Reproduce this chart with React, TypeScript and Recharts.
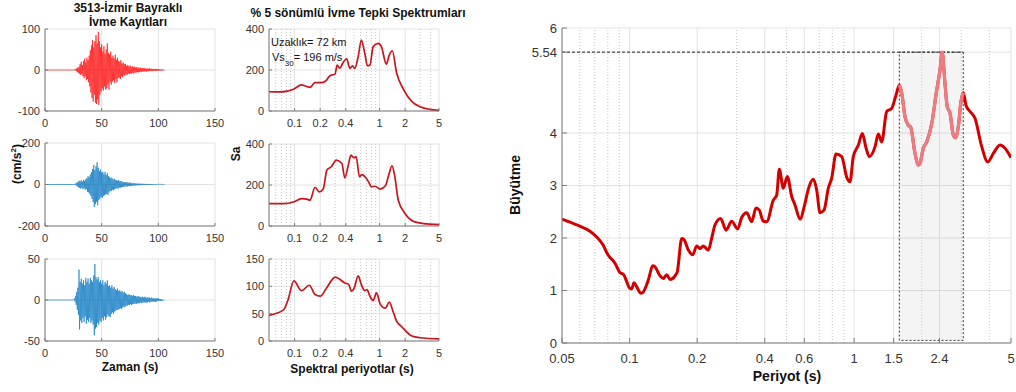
import React from 'react';
import {
  LineChart, Line, XAxis, YAxis, CartesianGrid, ReferenceLine, ReferenceArea,
} from 'recharts';

const FONT = '"Liberation Sans", Arial, Helvetica, sans-serif';
const AXIS = '#7d7d7d';
const LABEL = '#333333';
const GRID = '#e2e2e2';
const MINOR = '#c6c6c6';

// ---- acceleration records: per-second peak (hi) and trough (lo), starting at 26 s ----
const recStart = 26;
const rec1Hi = [1, 2, 4, 6, 8, 15, 20, 12, 22, 28, 18, 30, 25, 35, 48, 60, 73, 55, 70, 85, 65, 93, 70, 55, 63, 45, 58, 40, 50, 65, 42, 38, 45, 30, 35, 28, 37, 25, 30, 22, 20, 24, 16, 18, 14, 15, 10, 12, 9, 11, 8, 9, 7, 8, 6, 7, 6, 5, 6, 4, 5, 4, 5, 3, 4, 3, 4, 3, 3, 2, 3, 2, 3, 2, 2, 2, 1, 2, 1, 0];
const rec1Lo = [-1, -2, -5, -7, -9, -12, -10, -15, -20, -15, -25, -22, -30, -40, -55, -68, -77, -60, -80, -83, -72, -85, -60, -52, -45, -50, -40, -48, -45, -35, -48, -30, -36, -28, -25, -32, -22, -30, -20, -18, -22, -15, -17, -13, -14, -11, -12, -9, -10, -8, -9, -7, -8, -6, -6, -5, -6, -5, -4, -5, -4, -4, -3, -4, -3, -3, -3, -2, -3, -2, -2, -2, -2, -2, -1, -2, -1, -1, -1, 0];
const rec2Hi = [2, 4, 8, 12, 18, 15, 20, 14, 22, 18, 25, 30, 40, 35, 48, 60, 75, 94, 70, 88, 107, 81, 65, 72, 58, 61, 50, 61, 45, 55, 40, 35, 30, 33, 25, 28, 22, 20, 18, 22, 15, 17, 14, 12, 10, 12, 9, 10, 8, 10, 7, 6, 6, 5, 5, 4, 5, 4, 4, 3, 4, 3, 3, 3, 2, 3, 2, 2, 2, 2, 2, 1, 2, 1, 1, 1, 1, 1, 1, 0];
const rec2Lo = [-2, -4, -9, -14, -16, -20, -15, -22, -18, -25, -22, -35, -38, -45, -55, -70, -85, -108, -95, -84, -100, -75, -68, -60, -65, -55, -52, -48, -45, -50, -38, -30, -32, -25, -28, -22, -20, -18, -20, -15, -16, -13, -12, -11, -10, -9, -10, -8, -7, -8, -6, -6, -5, -5, -4, -4, -4, -3, -4, -3, -3, -3, -2, -3, -2, -2, -2, -2, -2, -1, -2, -1, -1, -1, -1, -1, -1, -1, -1, 0];
const rec3Hi = [2, 5, 10, 15, 37, 22, 26, 20, 24, 18, 27, 22, 26, 20, 27, 24, 22, 30, 44, 28, 25, 28, 22, 24, 20, 24, 18, 22, 20, 24, 17, 18, 15, 18, 14, 16, 13, 12, 14, 11, 12, 10, 11, 9, 10, 8, 7, 6, 7, 6, 6, 5, 6, 5, 5, 4, 5, 4, 4, 3, 4, 3, 4, 3, 3, 3, 3, 2, 3, 2, 2, 2, 2, 2, 2, 1, 1, 1, 0, 0];
const rec3Lo = [-2, -6, -12, -18, -36, -25, -28, -22, -27, -20, -29, -24, -27, -22, -28, -25, -30, -43, -35, -33, -28, -30, -25, -27, -22, -25, -20, -24, -21, -18, -20, -21, -17, -15, -17, -14, -13, -12, -12, -11, -10, -11, -9, -8, -9, -7, -7, -6, -6, -5, -6, -5, -5, -4, -5, -4, -4, -4, -3, -4, -3, -3, -3, -3, -3, -2, -3, -2, -2, -2, -2, -2, -2, -1, -1, -1, -1, -1, 0, 0];

const timeTicks = [0, 50, 100, 150];

// ---- 5% damped response spectra ----
const sp1T = [0.05, 0.067, 0.082, 0.097, 0.121, 0.133, 0.152, 0.174, 0.208, 0.238, 0.26, 0.299, 0.317, 0.34, 0.367, 0.41, 0.447, 0.48, 0.51, 0.56, 0.61, 0.67, 0.72, 0.77, 0.84, 0.96, 1.05, 1.2, 1.3, 1.41, 1.59, 1.91, 2.4, 3.0, 3.9, 5];
const sp1Sa = [94, 93, 97, 106, 127, 122, 115, 138, 138, 151, 172, 180, 224, 208, 232, 255, 208, 220, 208, 265, 346, 281, 220, 224, 314, 330, 314, 229, 273, 294, 184, 106, 46, 21, 8, 3];
const sp2T = [0.05, 0.074, 0.097, 0.121, 0.139, 0.152, 0.174, 0.195, 0.217, 0.24, 0.27, 0.31, 0.36, 0.39, 0.43, 0.46, 0.5, 0.53, 0.58, 0.62, 0.7, 0.76, 0.8, 0.88, 1.02, 1.17, 1.28, 1.4, 1.5, 1.66, 2.0, 2.6, 3.6, 5];
const sp2Sa = [109, 109, 117, 134, 131, 126, 189, 166, 180, 273, 289, 321, 305, 235, 300, 346, 333, 338, 240, 251, 232, 207, 191, 194, 180, 196, 248, 294, 248, 126, 60, 20, 10, 7];
const sp3T = [0.05, 0.074, 0.084, 0.098, 0.121, 0.149, 0.174, 0.2, 0.238, 0.3, 0.34, 0.39, 0.43, 0.47, 0.5, 0.56, 0.61, 0.67, 0.71, 0.77, 0.84, 0.92, 1.02, 1.17, 1.3, 1.44, 1.59, 1.8, 2.4, 3.0, 5];
const sp3Sa = [47, 57, 76, 110, 92, 102, 85, 82, 97, 117, 113, 106, 104, 91, 96, 119, 103, 92, 94, 82, 74, 88, 67, 60, 71, 54, 36, 27, 9, 6, 4];

const spTicks = [0.1, 0.2, 0.4, 1, 2, 5];
const spMinor = [0.06, 0.07, 0.08, 0.09, 0.3, 0.5, 0.6, 0.7, 0.8, 0.9, 3, 4];

// ---- amplification curve ----
const ampT = [0.05, 0.0582, 0.0666, 0.0714, 0.0761, 0.0801, 0.0861, 0.0907, 0.0938, 0.0971, 0.0997, 0.1022, 0.1046, 0.1076, 0.1121, 0.1144, 0.1212, 0.1268, 0.1298, 0.1367, 0.1413, 0.1464, 0.1514, 0.1594, 0.1632, 0.1707, 0.1748, 0.1827, 0.1911, 0.1991, 0.206, 0.2131, 0.2243, 0.2322, 0.2402, 0.2547, 0.2689, 0.2851, 0.3031, 0.3158, 0.3324, 0.3499, 0.3657, 0.3782, 0.3942, 0.4082, 0.4368, 0.4523, 0.4645, 0.4839, 0.504, 0.5274, 0.5456, 0.574, 0.6045, 0.6254, 0.6585, 0.6817, 0.705, 0.7345, 0.768, 0.795, 0.831, 0.881, 0.927, 0.959, 0.992, 1.045, 1.088, 1.13, 1.169, 1.24, 1.282, 1.328, 1.397, 1.471, 1.537, 1.59, 1.63, 1.686, 1.744, 1.788, 1.868, 1.932, 1.966, 2.034, 2.106, 2.218, 2.334, 2.414, 2.47, 2.54, 2.6, 2.675, 2.767, 2.836, 2.912, 2.994, 3.065, 3.151, 3.284, 3.456, 3.703, 3.938, 4.171, 4.467, 4.7, 5.0];
const ampVal = [2.36, 2.25, 2.13, 2.02, 1.87, 1.68, 1.52, 1.34, 1.31, 1.17, 1.05, 1.03, 1.15, 1.07, 0.95, 0.96, 1.2, 1.47, 1.45, 1.28, 1.23, 1.3, 1.21, 1.28, 1.36, 1.99, 1.97, 1.77, 1.68, 1.85, 1.8, 1.85, 1.77, 2.0, 2.25, 2.37, 2.15, 2.32, 2.17, 2.39, 2.48, 2.31, 2.57, 2.53, 2.32, 2.31, 2.72, 2.82, 3.31, 2.95, 3.17, 2.79, 2.63, 2.36, 2.66, 2.93, 3.12, 2.91, 2.48, 2.53, 2.95, 3.14, 3.6, 3.55, 3.16, 3.07, 3.55, 3.77, 3.99, 3.72, 3.55, 3.74, 3.98, 3.83, 4.41, 4.47, 4.72, 4.91, 4.76, 4.31, 4.15, 4.11, 3.61, 3.39, 3.42, 3.71, 3.83, 4.18, 4.82, 5.2, 5.54, 4.95, 4.5, 4.38, 3.96, 3.91, 4.12, 4.6, 4.77, 4.53, 4.41, 4.28, 3.74, 3.45, 3.61, 3.77, 3.71, 3.53];

const ampTicks = [0.05, 0.1, 0.2, 0.4, 0.6, 1, 1.5, 2.4, 5];
const ampMinor = [0.06, 0.07, 0.08, 0.09, 0.3, 0.5, 0.7, 0.8, 0.9, 2, 3, 4];
const ampYTicks = [0, 1, 2, 3, 4, 5.54, 6];
const peakAmp = 5.54;
const bandFrom = 1.59;
const bandTo = 3.065;

type Box = { x: number; y: number; w: number; h: number };

function buildTrace(hi: number[], lo: number[]) {
  const rows = [{ t: 0, a: 0 }, { t: recStart - 1, a: 0 }];
  hi.forEach((h, i) => {
    rows.push({ t: recStart + i, a: h });
    rows.push({ t: recStart + i + 0.5, a: lo[i] });
  });
  return rows;
}

function buildSpectrum(T: number[], sa: number[]) {
  return T.map((t, i) => ({ t, sa: sa[i] }));
}

const ampData = ampT.map((t, i) => ({
  t,
  amp: ampVal[i],
  band: t >= bandFrom && t <= bandTo ? ampVal[i] : null,
}));

const blank = () => '';

function place(box: Box, padL: number, padT: number, padR: number, padB: number) {
  return {
    style: { position: 'absolute' as const, left: box.x - padL, top: box.y - padT },
    width: box.w + padL + padR,
    height: box.h + padT + padB,
    margin: { top: padT, right: padR, bottom: 0, left: 0 },
  };
}

function TracePanel({ box, data, range, yTicks, color }: {
  box: Box; data: { t: number; a: number }[]; range: number; yTicks: number[]; color: string;
}) {
  const p = place(box, 40, 10, 14, 24);
  const tickStyle = { fontSize: 11, fill: LABEL };
  return (
    <div style={p.style}>
      <LineChart width={p.width} height={p.height} data={data} margin={p.margin}>
        <CartesianGrid stroke={GRID} />
        <XAxis dataKey="t" type="number" domain={[0, 150]} ticks={timeTicks} interval={0}
          height={24} tickSize={-3} tickMargin={11} tick={tickStyle}
          stroke={AXIS} />
        <XAxis xAxisId="top" orientation="top" type="number" domain={[0, 150]} ticks={timeTicks}
          height={0} tickSize={-3} tickFormatter={blank} stroke={AXIS} />
        <YAxis type="number" domain={[-range, range]} ticks={yTicks} interval={0}
          width={40} tickSize={-3} tickMargin={8} tick={tickStyle} stroke={AXIS} />
        <YAxis yAxisId="right" orientation="right" type="number" domain={[-range, range]} ticks={yTicks}
          width={0} tickSize={-3} tickFormatter={blank} stroke={AXIS} />
        <Line dataKey="a" type="linear" stroke={color} strokeWidth={0.6} dot={false}
          isAnimationActive={false} />
      </LineChart>
    </div>
  );
}

function SpectrumPanel({ box, data, max, yTicks }: {
  box: Box; data: { t: number; sa: number }[]; max: number; yTicks: number[];
}) {
  const p = place(box, 40, 10, 10, 24);
  const tickStyle = { fontSize: 11, fill: LABEL };
  return (
    <div style={p.style}>
      <LineChart width={p.width} height={p.height} data={data} margin={p.margin}>
        <CartesianGrid stroke={GRID} />
        {spMinor.map((v) => (
          <ReferenceLine key={v} x={v} stroke={MINOR} strokeDasharray="1 2" />
        ))}
        <XAxis dataKey="t" type="number" scale="log" domain={[0.05, 5]} allowDataOverflow
          ticks={spTicks} interval={0} height={24} tickSize={-3} tickMargin={11}
          tick={tickStyle} stroke={AXIS} />
        <XAxis xAxisId="top" orientation="top" type="number" scale="log" domain={[0.05, 5]}
          allowDataOverflow ticks={spTicks} height={0} tickSize={-3} tickFormatter={blank} stroke={AXIS} />
        <YAxis type="number" domain={[0, max]} ticks={yTicks} interval={0} width={40}
          tickSize={-3} tickMargin={8} tick={tickStyle} stroke={AXIS} />
        <YAxis yAxisId="right" orientation="right" type="number" domain={[0, max]} ticks={yTicks}
          width={0} tickSize={-3} tickFormatter={blank} stroke={AXIS} />
        <Line dataKey="sa" type="monotone" stroke="#c8141c" strokeWidth={1.7} dot={false}
          isAnimationActive={false} />
      </LineChart>
    </div>
  );
}

function AmplificationPanel({ box }: { box: Box }) {
  const p = place(box, 60, 10, 5, 30);
  const tickStyle = { fontSize: 13, fill: LABEL };
  return (
    <div style={p.style}>
      <LineChart width={p.width} height={p.height} data={ampData} margin={p.margin}>
        <ReferenceArea x1={bandFrom} x2={bandTo} y1={0.05} y2={peakAmp} fill="#000000"
          fillOpacity={0.045} stroke="#333333" strokeDasharray="2 2" />
        <CartesianGrid stroke={GRID} />
        {ampMinor.map((v) => (
          <ReferenceLine key={v} x={v} stroke={MINOR} strokeDasharray="1 2" />
        ))}
        <ReferenceLine segment={[{ x: 0.05, y: peakAmp }, { x: bandTo, y: peakAmp }]}
          stroke="#222222" strokeDasharray="3 2" />
        <XAxis dataKey="t" type="number" scale="log" domain={[0.05, 5]} allowDataOverflow
          ticks={ampTicks} interval={0} height={30} tickSize={-5} tickMargin={16}
          tick={tickStyle} stroke={AXIS} />
        <XAxis xAxisId="top" orientation="top" type="number" scale="log" domain={[0.05, 5]}
          allowDataOverflow ticks={[...ampTicks, ...ampMinor]} height={0} tickSize={-5}
          tickFormatter={blank} stroke={AXIS} />
        <YAxis type="number" domain={[0, 6]} ticks={ampYTicks} interval={0} width={60}
          tickSize={-5} tickMargin={10} tick={tickStyle} stroke={AXIS} />
        <YAxis yAxisId="right" orientation="right" type="number" domain={[0, 6]} ticks={ampYTicks}
          width={0} tickSize={-5} tickFormatter={blank} stroke={AXIS} />
        <Line dataKey="amp" type="monotone" stroke="#d30000" strokeWidth={3} dot={false}
          isAnimationActive={false} />
        <Line dataKey="band" type="monotone" stroke="#eb7c80" strokeWidth={3.3} dot={false}
          connectNulls={false} isAnimationActive={false} />
      </LineChart>
    </div>
  );
}

export default function App() {
  return (
    <div style={{ position: 'absolute', left: 0, top: 0, width: 1016, height: 392, background: '#fff', fontFamily: FONT, overflow: 'hidden' }}>
      <TracePanel box={{ x: 45, y: 29, w: 170, h: 82 }} data={buildTrace(rec1Hi, rec1Lo)}
        range={100} yTicks={[-100, 0, 100]} color="#ff0000" />
      <TracePanel box={{ x: 45, y: 143, w: 170, h: 83 }} data={buildTrace(rec2Hi, rec2Lo)}
        range={200} yTicks={[-200, 0, 200]} color="#0072bd" />
      <TracePanel box={{ x: 45, y: 259, w: 170, h: 82 }} data={buildTrace(rec3Hi, rec3Lo)}
        range={50} yTicks={[-50, 0, 50]} color="#0072bd" />

      <SpectrumPanel box={{ x: 269, y: 29, w: 170, h: 82 }} data={buildSpectrum(sp1T, sp1Sa)}
        max={400} yTicks={[0, 200, 400]} />
      <SpectrumPanel box={{ x: 269, y: 144, w: 170, h: 82 }} data={buildSpectrum(sp2T, sp2Sa)}
        max={400} yTicks={[0, 200, 400]} />
      <SpectrumPanel box={{ x: 269, y: 259, w: 170, h: 82 }} data={buildSpectrum(sp3T, sp3Sa)}
        max={150} yTicks={[0, 50, 100, 150]} />

      <AmplificationPanel box={{ x: 562, y: 28, w: 449, h: 315 }} />

      <svg width={1016} height={392} style={{ position: 'absolute', left: 0, top: 0, pointerEvents: 'none' }}>
        <g fontWeight="bold" fill="#111" fontSize={12} textAnchor="middle">
          <text x={128} y={12}>3513-İzmir Bayraklı</text>
          <text x={128} y={26}>İvme Kayıtları</text>
          <text x={358} y={17}>% 5 sönümlü İvme Tepki Spektrumları</text>
          <text x={130} y={371}>Zaman (s)</text>
          <text x={352} y={373}>Spektral periyotlar (s)</text>
          <text transform="translate(21 164) rotate(-90)">
            <tspan>(cm/s</tspan><tspan dy={-5} fontSize={8}>2</tspan><tspan dy={5}>)</tspan>
          </text>
          <text transform="translate(240 154) rotate(-90)">Sa</text>
          <text transform="translate(520 185) rotate(-90)" fontSize={14}>Büyütme</text>
          <text x={787} y={381} fontSize={14}>Periyot (s)</text>
        </g>
        <g fill="#111" fontSize={11}>
          <text x={271} y={46}>Uzaklık= 72 km</text>
          <text x={272} y={61}>
            <tspan>Vs</tspan><tspan dy={5} fontSize={8}>30</tspan><tspan dy={-5}>= 196 m/s</tspan>
          </text>
        </g>
      </svg>
    </div>
  );
}
